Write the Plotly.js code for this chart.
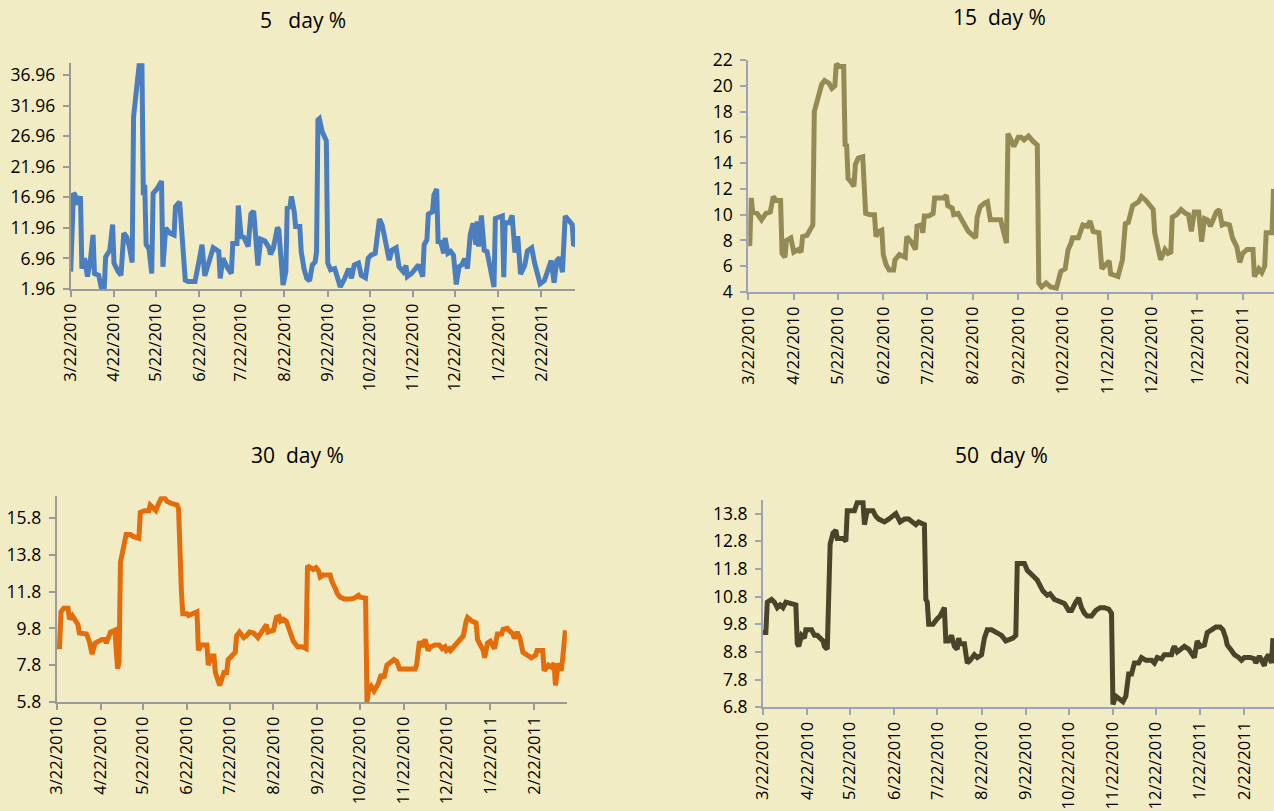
<!DOCTYPE html>
<html><head><meta charset="utf-8">
<script src="https://cdn.plot.ly/plotly-3.0.1.min.js"></script>
<style>html,body{margin:0;padding:0;background:#F2ECC4;overflow:hidden}#chart{width:1274px;height:811px}</style>
</head><body><div id="chart"></div>
<script>
const titles = ['5   day %', '15  day %', '30  day %', '50  day %'];
const monthTickDates = ['2010-03-22','2010-04-22','2010-05-22','2010-06-22','2010-07-22','2010-08-22','2010-09-22','2010-10-22','2010-11-22','2010-12-22','2011-01-22','2011-02-22'];
const monthTickText = ['3/22/2010','4/22/2010','5/22/2010','6/22/2010','7/22/2010','8/22/2010','9/22/2010','10/22/2010','11/22/2010','12/22/2010','1/22/2011','2/22/2011'];
const yTicks5 = [1.96, 6.96, 11.96, 16.96, 21.96, 26.96, 31.96, 36.96];
const yTicks15 = [4, 6, 8, 10, 12, 14, 16, 18, 20, 22];
const yTicks30 = [5.8, 7.8, 9.8, 11.8, 13.8, 15.8];
const yTicks50 = [6.8, 7.8, 8.8, 9.8, 10.8, 11.8, 12.8, 13.8];

const dates5 = [
'2010-03-22','2010-03-24','2010-03-25','2010-03-27','2010-03-29','2010-03-30','2010-04-01','2010-04-03','2010-04-05','2010-04-07',
'2010-04-08','2010-04-11','2010-04-13','2010-04-15','2010-04-16','2010-04-19','2010-04-21','2010-04-22','2010-04-25','2010-04-27',
'2010-04-29','2010-05-01','2010-05-03','2010-05-05','2010-05-06','2010-05-08','2010-05-10','2010-05-12','2010-05-13','2010-05-14',
'2010-05-15','2010-05-17','2010-05-19','2010-05-20','2010-05-23','2010-05-26','2010-05-27','2010-05-29','2010-06-01','2010-06-04',
'2010-06-05','2010-06-08','2010-06-10','2010-06-12','2010-06-14','2010-06-19','2010-06-22','2010-06-24','2010-06-26','2010-06-29',
'2010-07-02','2010-07-06','2010-07-07','2010-07-09','2010-07-12','2010-07-15','2010-07-16','2010-07-19','2010-07-20','2010-07-22',
'2010-07-24','2010-07-27','2010-07-29','2010-07-31','2010-08-01','2010-08-03','2010-08-05','2010-08-08','2010-08-11','2010-08-12',
'2010-08-14','2010-08-17','2010-08-18','2010-08-21','2010-08-23','2010-08-24','2010-08-26','2010-08-27','2010-08-29','2010-08-30',
'2010-09-02','2010-09-03','2010-09-05','2010-09-07','2010-09-09','2010-09-11','2010-09-13','2010-09-14','2010-09-15','2010-09-16',
'2010-09-18','2010-09-21','2010-09-22','2010-09-24','2010-09-27','2010-09-29','2010-10-01','2010-10-04','2010-10-07','2010-10-09',
'2010-10-11','2010-10-14','2010-10-16','2010-10-19','2010-10-21','2010-10-23','2010-10-26','2010-10-27','2010-10-29','2010-10-31',
'2010-11-02','2010-11-03','2010-11-05','2010-11-07','2010-11-10','2010-11-12','2010-11-15','2010-11-17','2010-11-18','2010-11-21',
'2010-11-24','2010-11-26','2010-11-29','2010-11-30','2010-12-02','2010-12-03','2010-12-06','2010-12-07','2010-12-09','2010-12-10',
'2010-12-12','2010-12-14','2010-12-15','2010-12-17','2010-12-19','2010-12-21','2010-12-23','2010-12-25','2010-12-27','2010-12-29',
'2010-12-31','2011-01-02','2011-01-04','2011-01-06','2011-01-07','2011-01-08','2011-01-10','2011-01-12','2011-01-14','2011-01-19',
'2011-01-20','2011-01-23','2011-01-25','2011-01-26','2011-01-27','2011-01-30','2011-02-01','2011-02-03','2011-02-05','2011-02-07',
'2011-02-10','2011-02-12','2011-02-15','2011-02-17','2011-02-19','2011-02-21','2011-02-24','2011-02-26','2011-03-01','2011-03-03',
'2011-03-05','2011-03-07','2011-03-09','2011-03-11','2011-03-14','2011-03-16','2011-03-17','2011-03-18'];
const vals5 = [
4.8,17.6,17.4,15.8,17.1,5.3,7.0,4.0,6.5,10.8,
4.5,4.2,2.1,2.0,7.2,8.3,12.5,6.2,4.8,4.2,
11.1,10.5,8.9,6.3,30.1,33.7,38.6,38.6,17.3,19.0,
9.2,8.6,4.5,17.6,18.4,19.6,5.6,11.9,11.1,10.8,
15.4,16.2,8.3,3.4,3.2,3.2,6.7,9.2,4.1,6.7,
8.7,8.1,3.7,7.0,5.5,4.5,9.4,9.4,15.6,10.5,
10.4,8.9,14.2,14.7,11.9,5.8,10.1,9.8,8.7,7.6,
8.6,12.0,11.6,2.6,4.8,15.2,15.4,17.1,14.6,12.2,
12.2,8.1,5.3,3.7,3.3,5.9,6.4,8.1,29.6,29.8,
27.7,26.2,6.2,5.1,5.3,4.0,2.3,3.6,5.3,3.7,
5.9,6.2,4.2,3.8,7.0,7.5,7.8,9.7,13.4,12.4,
9.7,8.9,6.7,8.3,8.7,5.6,4.8,5.8,4.0,4.5,
5.3,5.9,4.0,9.2,10.0,14.2,14.6,17.3,18.3,9.7,
9.6,7.8,10.3,7.8,8.1,7.5,2.7,5.6,5.9,6.9,
5.3,10.8,12.7,9.2,13.0,8.9,14.0,8.3,8.1,2.3,
13.5,13.8,13.9,3.9,12.8,12.8,14.0,7.9,10.6,4.4,
5.8,8.2,8.7,6.3,4.2,2.8,3.3,4.7,6.6,3.0,
6.6,7.1,4.7,13.9,12.9,12.5,9.0,9.3];

const dates15 = [
'2010-03-22','2010-03-23','2010-03-24','2010-03-25','2010-03-28','2010-03-31','2010-04-03','2010-04-06','2010-04-08','2010-04-10',
'2010-04-13','2010-04-14','2010-04-16','2010-04-17','2010-04-20','2010-04-22','2010-04-25','2010-04-27','2010-04-28','2010-05-01',
'2010-05-03','2010-05-05','2010-05-06','2010-05-08','2010-05-11','2010-05-13','2010-05-16','2010-05-18','2010-05-20','2010-05-21',
'2010-05-23','2010-05-26','2010-05-27','2010-05-28','2010-05-29','2010-05-30','2010-06-02','2010-06-03','2010-06-05','2010-06-08',
'2010-06-10','2010-06-13','2010-06-16','2010-06-17','2010-06-19','2010-06-21','2010-06-22','2010-06-24','2010-06-26','2010-06-29',
'2010-06-30','2010-07-03','2010-07-07','2010-07-08','2010-07-11','2010-07-14','2010-07-15','2010-07-18','2010-07-19','2010-07-20',
'2010-07-23','2010-07-26','2010-07-27','2010-07-30','2010-08-02','2010-08-04','2010-08-05','2010-08-08','2010-08-09','2010-08-12',
'2010-08-14','2010-08-17','2010-08-19','2010-08-22','2010-08-24','2010-08-25','2010-08-27','2010-08-30','2010-09-01','2010-09-03',
'2010-09-06','2010-09-10','2010-09-11','2010-09-14','2010-09-15','2010-09-18','2010-09-19','2010-09-22','2010-09-24','2010-09-26',
'2010-09-29','2010-10-02','2010-10-05','2010-10-06','2010-10-08','2010-10-11','2010-10-14','2010-10-18','2010-10-19','2010-10-21',
'2010-10-24','2010-10-26','2010-10-28','2010-10-29','2010-11-02','2010-11-05','2010-11-08','2010-11-10','2010-11-12','2010-11-16',
'2010-11-18','2010-11-21','2010-11-23','2010-11-24','2010-11-29','2010-12-02','2010-12-04','2010-12-06','2010-12-08','2010-12-09',
'2010-12-13','2010-12-15','2010-12-18','2010-12-21','2010-12-23','2010-12-24','2010-12-26','2010-12-28','2010-12-31','2011-01-02',
'2011-01-04','2011-01-05','2011-01-08','2011-01-11','2011-01-14','2011-01-16','2011-01-18','2011-01-20','2011-01-23','2011-01-25',
'2011-01-27','2011-01-29','2011-01-31','2011-02-02','2011-02-04','2011-02-06','2011-02-08','2011-02-10','2011-02-13','2011-02-15',
'2011-02-18','2011-02-20','2011-02-22','2011-02-25','2011-03-01','2011-03-02','2011-03-05','2011-03-07','2011-03-09','2011-03-10',
'2011-03-14','2011-03-15'];
const vals15 = [
7.9,7.6,11.3,10.2,10.1,9.6,10.1,10.2,11.4,11.1,
11.1,7.0,6.7,8.0,8.2,7.1,7.3,7.1,8.3,8.4,
8.8,9.2,18.0,19.0,20.1,20.4,20.2,19.8,20.0,21.7,
21.5,21.5,15.3,15.5,12.8,12.7,12.2,13.9,14.4,14.5,
10.1,10.0,10.0,8.3,8.7,8.8,6.9,6.1,5.7,5.7,
6.5,6.9,6.7,8.3,7.9,7.3,9.1,9.2,8.6,9.9,
9.9,10.1,11.3,11.3,11.3,11.5,10.7,10.5,10.0,10.1,
9.7,9.1,8.7,8.4,8.2,9.8,10.6,10.9,11.0,9.6,
9.6,9.6,9.1,7.8,16.3,15.5,15.3,16.0,16.0,15.8,
16.1,15.7,15.4,4.7,4.4,4.7,4.4,4.3,4.9,5.6,
5.8,7.3,7.8,8.2,8.2,9.2,9.1,9.5,8.7,8.6,
5.8,6.1,6.4,5.4,5.2,6.5,9.3,9.4,10.4,10.7,
11.0,11.4,11.1,10.6,10.4,8.6,7.6,6.5,7.3,7.0,
7.1,9.8,10.0,10.4,10.1,10.0,8.7,10.2,10.2,7.9,
9.7,9.6,9.1,9.8,10.2,10.4,9.2,9.3,9.2,8.2,
7.5,6.3,7.0,7.3,7.3,5.2,5.8,5.5,6.0,8.6,
8.6,12.0];

const dates30 = [
'2010-03-22','2010-03-24','2010-03-25','2010-03-27','2010-03-30','2010-03-31','2010-04-02','2010-04-04','2010-04-06','2010-04-07',
'2010-04-10','2010-04-12','2010-04-14','2010-04-16','2010-04-18','2010-04-20','2010-04-23','2010-04-25','2010-04-26','2010-04-29',
'2010-05-02','2010-05-04','2010-05-05','2010-05-06','2010-05-08','2010-05-10','2010-05-13','2010-05-15','2010-05-19','2010-05-20',
'2010-05-23','2010-05-26','2010-05-27','2010-05-29','2010-05-31','2010-06-02','2010-06-04','2010-06-06','2010-06-08','2010-06-11',
'2010-06-15','2010-06-16','2010-06-17','2010-06-18','2010-06-19','2010-06-22','2010-06-23','2010-06-27','2010-06-29','2010-06-30',
'2010-07-02','2010-07-06','2010-07-07','2010-07-09','2010-07-11','2010-07-12','2010-07-14','2010-07-15','2010-07-18','2010-07-20',
'2010-07-21','2010-07-24','2010-07-26','2010-07-27','2010-07-29','2010-08-01','2010-08-03','2010-08-05','2010-08-08','2010-08-11',
'2010-08-14','2010-08-17','2010-08-18','2010-08-22','2010-08-24','2010-08-26','2010-08-27','2010-08-29','2010-08-31','2010-09-03',
'2010-09-05','2010-09-08','2010-09-11','2010-09-14','2010-09-15','2010-09-17','2010-09-19','2010-09-21','2010-09-23','2010-09-24',
'2010-09-26','2010-10-01','2010-10-02','2010-10-05','2010-10-06','2010-10-08','2010-10-11','2010-10-16','2010-10-18','2010-10-21',
'2010-10-22','2010-10-26','2010-10-27','2010-10-28','2010-10-30','2010-11-01','2010-11-04','2010-11-06','2010-11-08','2010-11-10',
'2010-11-12','2010-11-15','2010-11-17','2010-11-19','2010-11-22','2010-11-26','2010-11-30','2010-12-01','2010-12-03','2010-12-05',
'2010-12-07','2010-12-09','2010-12-11','2010-12-14','2010-12-17','2010-12-19','2010-12-21','2010-12-22','2010-12-24','2010-12-25',
'2010-12-28','2010-12-31','2011-01-03','2011-01-05','2011-01-06','2011-01-09','2011-01-12','2011-01-13','2011-01-15','2011-01-17',
'2011-01-18','2011-01-20','2011-01-22','2011-01-25','2011-01-27','2011-01-30','2011-01-31','2011-02-03','2011-02-04','2011-02-07',
'2011-02-08','2011-02-10','2011-02-12','2011-02-14','2011-02-16','2011-02-20','2011-02-23','2011-02-24','2011-02-28','2011-03-01',
'2011-03-04','2011-03-06','2011-03-08','2011-03-09','2011-03-11','2011-03-13','2011-03-14','2011-03-16'];
const vals30 = [
8.8,8.8,10.7,10.9,10.9,10.3,10.5,10.2,10.0,9.55,
9.5,9.5,9.1,8.4,9.0,9.1,9.2,9.2,9.0,9.6,
9.7,7.6,8.0,13.4,14.1,14.9,14.9,14.8,14.7,16.1,
16.2,16.2,16.5,16.3,16.2,16.6,16.9,16.9,16.7,16.6,
16.5,16.3,12.4,11.8,10.6,10.6,10.5,10.6,10.7,8.6,
8.9,8.9,7.8,8.3,8.3,7.4,6.9,6.7,7.4,7.4,
8.1,8.3,8.5,9.4,9.6,9.3,9.4,9.6,9.55,9.3,
9.7,10.0,9.6,9.7,10.4,10.45,10.2,10.3,10.2,9.6,
9.1,8.8,8.8,8.7,13.2,13.1,13.0,13.1,12.9,12.6,
12.7,12.7,12.4,11.9,11.7,11.5,11.4,11.4,11.45,11.6,
11.5,11.45,5.8,6.4,6.65,6.4,6.8,7.3,7.1,7.8,
7.9,8.1,8.0,7.6,7.6,7.6,7.6,7.8,9.1,8.8,
9.2,8.6,8.8,8.9,8.9,8.7,8.8,8.6,8.7,8.6,
8.9,9.1,9.4,10.2,10.4,10.2,10.1,9.2,8.9,8.6,
8.2,9.0,9.1,8.7,9.5,9.5,9.75,9.8,9.7,9.5,
9.25,9.6,9.25,8.5,8.4,8.2,8.35,8.6,8.6,7.5,
7.8,7.7,7.9,6.7,7.9,7.5,8.1,9.7];

const dates50 = [
'2010-03-22','2010-03-24','2010-03-25','2010-03-28','2010-03-30','2010-04-01','2010-04-03','2010-04-05','2010-04-07','2010-04-11',
'2010-04-14','2010-04-15','2010-04-16','2010-04-18','2010-04-20','2010-04-21','2010-04-25','2010-04-27','2010-04-29','2010-05-03',
'2010-05-04','2010-05-06','2010-05-07','2010-05-08','2010-05-10','2010-05-12','2010-05-13','2010-05-17','2010-05-19','2010-05-20',
'2010-05-23','2010-05-25','2010-05-27','2010-05-31','2010-06-01','2010-06-03','2010-06-07','2010-06-09','2010-06-11','2010-06-15',
'2010-06-18','2010-06-23','2010-06-26','2010-06-29','2010-07-02','2010-07-05','2010-07-07','2010-07-09','2010-07-13','2010-07-14',
'2010-07-15','2010-07-16','2010-07-19','2010-07-22','2010-07-24','2010-07-27','2010-07-28','2010-07-30','2010-08-01','2010-08-03',
'2010-08-05','2010-08-06','2010-08-07','2010-08-10','2010-08-12','2010-08-14','2010-08-17','2010-08-19','2010-08-22','2010-08-24',
'2010-08-26','2010-08-29','2010-09-02','2010-09-05','2010-09-08','2010-09-10','2010-09-13','2010-09-15','2010-09-16','2010-09-18',
'2010-09-21','2010-09-23','2010-09-26','2010-09-30','2010-10-02','2010-10-04','2010-10-07','2010-10-09','2010-10-12','2010-10-16',
'2010-10-19','2010-10-22','2010-10-24','2010-10-27','2010-10-29','2010-10-31','2010-11-02','2010-11-04','2010-11-07','2010-11-10',
'2010-11-13','2010-11-16','2010-11-19','2010-11-21','2010-11-22','2010-11-24','2010-11-27','2010-11-29','2010-12-01','2010-12-03',
'2010-12-05','2010-12-07','2010-12-10','2010-12-12','2010-12-15','2010-12-19','2010-12-21','2010-12-23','2010-12-26','2010-12-28',
'2010-12-30','2011-01-02','2011-01-03','2011-01-04','2011-01-06','2011-01-09','2011-01-11','2011-01-14','2011-01-17','2011-01-18',
'2011-01-20','2011-01-22','2011-01-25','2011-01-27','2011-01-30','2011-02-02','2011-02-05','2011-02-07','2011-02-09','2011-02-10',
'2011-02-13','2011-02-15','2011-02-18','2011-02-20','2011-02-22','2011-02-26','2011-03-01','2011-03-02','2011-03-04','2011-03-05',
'2011-03-08','2011-03-09','2011-03-11','2011-03-13','2011-03-14'];
const vals50 = [
9.5,9.5,10.6,10.7,10.6,10.4,10.5,10.4,10.6,10.55,
10.5,9.1,9.0,9.4,9.3,9.6,9.6,9.4,9.4,9.2,
9.0,8.9,12.2,12.7,13.1,13.2,12.9,12.9,12.8,13.9,
13.9,13.9,14.2,14.2,13.4,13.9,13.9,13.7,13.6,13.5,
13.6,13.8,13.5,13.6,13.6,13.5,13.4,13.5,13.4,10.7,
10.6,9.8,9.8,10.0,10.1,10.4,9.2,9.2,9.4,9.0,
8.9,9.3,9.1,9.1,8.4,8.5,8.7,8.6,8.7,9.3,
9.6,9.6,9.5,9.4,9.2,9.25,9.3,9.4,12.0,12.0,
12.0,11.75,11.6,11.4,11.2,11.0,10.85,10.9,10.7,10.6,
10.55,10.3,10.3,10.6,10.75,10.4,10.2,10.1,10.1,10.3,
10.4,10.4,10.35,10.2,6.9,7.2,7.1,7.0,7.2,8.0,
8.0,8.4,8.4,8.6,8.5,8.5,8.4,8.6,8.55,8.7,
8.7,8.7,8.9,9.0,8.8,8.9,9.0,8.9,8.7,8.6,
9.2,9.0,9.05,9.5,9.6,9.7,9.7,9.6,9.3,9.05,
8.85,8.7,8.6,8.5,8.6,8.6,8.55,8.4,8.6,8.6,
8.3,8.55,8.7,8.4,9.3];

const BG = '#F2ECC4';
const FONT = 'Open Sans, Noto Sans, sans-serif';
const W = 1274, H = 811;

function xAxis(domain, rangeEnd, lineColor, anchor) {
  return {
    type: 'date', domain: domain, range: ['2010-03-22', rangeEnd], anchor: anchor,
    tickmode: 'array', tickvals: monthTickDates, ticktext: monthTickText, tickangle: -90,
    showline: true, linecolor: lineColor, linewidth: 2,
    ticks: 'outside', ticklen: 6, tickwidth: 2, tickcolor: lineColor,
    showgrid: false, zeroline: false, automargin: false, fixedrange: true,
    tickfont: {family: FONT, size: 16.5, color: '#000'}
  };
}
function yAxis(domain, range, ticks, lineColor, anchor) {
  return {
    domain: domain, range: range, anchor: anchor,
    tickmode: 'array', tickvals: ticks, ticktext: ticks.map(v => String(v)),
    showline: true, linecolor: lineColor, linewidth: 2,
    ticks: 'outside', ticklen: 6, tickwidth: 2, tickcolor: lineColor,
    showgrid: false, zeroline: false, automargin: false, fixedrange: true,
    ticklabelstandoff: 4,
    tickfont: {family: FONT, size: 17.5, color: '#000'}
  };
}
function line(x, y, color, xa, ya) {
  return {type: 'scatter', mode: 'lines', x: x, y: y, xaxis: xa, yaxis: ya,
    line: {color: color, width: 5, shape: 'linear'}, hoverinfo: 'skip'};
}

const leftAxis = '#9A9A9A', rightAxis = '#9FA3BA';
const data = [
  line(dates5, vals5, '#4A7EBF', 'x', 'y'),
  line(dates15, vals15, '#948A54', 'x2', 'y2'),
  line(dates30, vals30, '#E46C0A', 'x3', 'y3'),
  line(dates50, vals50, '#4A442A', 'x4', 'y4')
];

const nb = s => s.replace(/ /g, '\u00a0');
function title(text, px, py) {
  return {text: nb(text), x: px / W, y: 1 - py / H, xref: 'paper', yref: 'paper',
    xanchor: 'center', yanchor: 'middle', showarrow: false,
    font: {family: FONT, size: 21, color: '#000'}};
}

const layout = {
  width: W, height: H, margin: {l: 0, r: 0, t: 0, b: 0},
  paper_bgcolor: BG, plot_bgcolor: BG, showlegend: false,
  xaxis: xAxis([70.7 / W, 575 / W], '2011-03-18', leftAxis, 'y'),
  yaxis: yAxis([1 - 289 / H, 1 - 63.3 / H], [1.96, 38.87], yTicks5, leftAxis, 'x'),
  xaxis2: xAxis([748.3 / W, 1], '2011-03-15 08:00', rightAxis, 'y2'),
  yaxis2: yAxis([1 - 292 / H, 1 - 60 / H], [4, 22], yTicks15, rightAxis, 'x2'),
  xaxis3: xAxis([56.7 / W, 566.8 / W], '2011-03-17', leftAxis, 'y3'),
  yaxis3: yAxis([1 - 702 / H, 1 - 496.3 / H], [5.8, 16.98], yTicks30, leftAxis, 'x3'),
  xaxis4: xAxis([763 / W, 1], '2011-03-14 18:00', rightAxis, 'y4'),
  yaxis4: yAxis([1 - 707.3 / H, 1 - 500.3 / H], [6.8, 14.28], yTicks50, rightAxis, 'x4'),
  annotations: [
    title(titles[0], 303, 20),
    title(titles[1], 999, 17),
    title(titles[2], 297, 455),
    title(titles[3], 1001, 455)
  ]
};

Plotly.newPlot('chart', data, layout, {displayModeBar: false, staticPlot: true});
</script>
</body></html>
